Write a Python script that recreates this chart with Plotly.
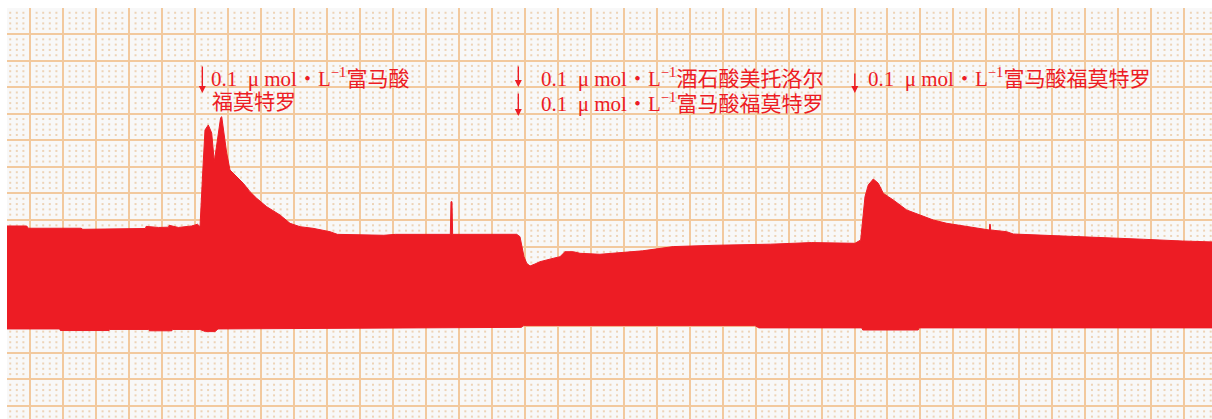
import numpy as np
import plotly.graph_objects as go

# Chart paper geometry: 1 unit = one major division
X_RANGE = [-0.6974, 35.840]
Y_RANGE = [-0.4893, 14.979]

# Upper envelope of the tension trace (time in divisions, amplitude in divisions)
upper_t = [-0.70, -0.10, -0.05, 1.55, 1.60, 3.20, 3.50, 3.52, 3.90, 4.20, 4.22,
           4.50, 4.90, 5.08, 5.155,
           5.246, 5.306, 5.406, 5.509, 5.588, 5.679, 5.780, 5.813, 5.861, 5.964,
           6.064, 6.267, 6.468, 6.671, 6.874, 7.177, 7.580, 7.884, 8.187, 8.581,
           9.096, 9.32, 10.73, 11.08, 12.745, 12.765, 12.795, 12.815, 14.757,
           14.857, 14.909, 14.979, 15.061, 15.161, 15.312, 15.464, 15.867, 16.070,
           16.222, 16.474, 16.677, 17.28, 18.57, 19.51, 20.80, 22.45, 23.69,
           25.015, 25.188, 25.249, 25.318, 25.418, 25.570, 25.722, 25.873, 26.025,
           26.177, 26.583, 26.986, 27.389, 27.796, 28.402, 29.090, 29.100, 29.115,
           29.130, 29.615, 29.815, 30.624, 31.17, 32.58, 33.76, 34.94, 35.84]
upper_v = [6.775, 6.775, 6.69, 6.69, 6.65, 6.675, 6.68, 6.76, 6.72, 6.73, 6.80,
           6.72, 6.775, 6.84, 6.748,
           9.006, 10.388, 10.576, 10.275, 9.195, 10.011, 10.85, 10.888, 10.388, 9.522,
           8.882, 8.630, 8.382, 8.066, 7.817, 7.501, 7.189, 6.876, 6.748, 6.688,
           6.560, 6.46, 6.425, 6.46, 6.46, 7.689, 7.689, 6.46, 6.462,
           6.372, 6.059, 5.619, 5.371, 5.269, 5.344, 5.431, 5.559, 5.619,
           5.807, 5.807, 5.747, 5.71, 5.84, 6.00, 6.05, 6.09, 6.15,
           6.123, 6.248, 7.064, 7.877, 8.318, 8.543, 8.382, 8.005, 7.877,
           7.753, 7.377, 7.189, 7.000, 6.876, 6.748, 6.624, 6.839, 6.839,
           6.624, 6.560, 6.473, 6.436, 6.40, 6.34, 6.275, 6.21, 6.175]

# Lower envelope of the trace
lower_t = [-0.70, 0.90, 0.92, 2.40, 2.42, 3.60, 3.62, 4.30, 4.32, 5.15, 5.32,
           5.61, 5.70, 7.14, 14.90, 14.96, 21.98, 22.10,
           25.22, 25.25, 26.93, 26.96, 35.84]
lower_v = [2.90, 2.90, 2.84, 2.84, 2.88, 2.88, 2.83, 2.83, 2.88, 2.88, 2.80,
           2.80, 2.90, 2.90, 2.96, 3.025, 3.025, 2.94,
           2.94, 2.86, 2.86, 2.94, 2.94]

# Drug additions: time of each arrow and its labels
event_t = [5.225, 14.806, 25.010]
dose = "0.1\u2002μ mol・L<sup>−1</sup>"
label_rows = [
    (event_t[0], 7, 12.345, dose + "富马酸"),
    (event_t[0], 8, 11.44, "福莫特罗"),
    (event_t[1], 21, 12.345, dose + "酒石酸美托洛尔"),
    (event_t[1], 21, 11.44, dose + "富马酸福莫特罗"),
    (event_t[2], 11, 12.345, dose + "富马酸福莫特罗"),
]
# arrow tips (time, amplitude) and arrow length in px
arrows = [(event_t[0], 11.78, 28), (event_t[1], 12.006, 22),
          (event_t[1], 10.915, 24), (event_t[2], 11.78, 21)]

RED = "#ED1C24"
GRID = "#F2C99E"
DOT = "#EDD3B6"
FONT = "Liberation Serif, Noto Sans CJK SC, serif"

fig = go.Figure()

# minor dot lattice of the chart paper (5 subdivisions per division)
ix = np.arange(-3, 180)
iy = np.arange(-2, 75)
gx, gy = np.meshgrid(ix, iy)
keep = (gx % 5 != 0) & (gy % 5 != 0)
fig.add_trace(go.Scatter(
    x=(gx[keep] * 0.2), y=(gy[keep] * 0.2), mode="markers",
    marker=dict(symbol="square", size=2, color=DOT, line=dict(width=0)),
    hoverinfo="skip", showlegend=False))

# filled trace between the envelopes
poly_t = list(upper_t) + list(reversed(lower_t))
poly_v = list(upper_v) + list(reversed(lower_v))
fig.add_trace(go.Scatter(
    x=poly_t, y=poly_v, mode="lines", fill="toself", fillcolor=RED,
    line=dict(color=RED, width=1), hoverinfo="skip", showlegend=False))

for t, v, length in arrows:
    fig.add_annotation(x=t, y=v, xref="x", yref="y", text="", showarrow=True,
                       ax=0, ay=-length, axref="pixel", ayref="pixel",
                       arrowhead=2, arrowsize=1.0, arrowwidth=1.4, arrowcolor=RED)

for t, shift, v, txt in label_rows:
    fig.add_annotation(x=t, y=v, xref="x", yref="y", text=txt, showarrow=False,
                       xanchor="left", yanchor="middle", xshift=shift,
                       font=dict(family=FONT, size=21, color=RED))

axis_common = dict(showgrid=True, gridcolor=GRID, gridwidth=2, dtick=1, tick0=0,
                   zeroline=False, showticklabels=False, ticks="", showline=False,
                   fixedrange=True)
fig.update_xaxes(range=X_RANGE, **axis_common)
fig.update_yaxes(range=Y_RANGE, **axis_common)

fig.update_layout(
    width=1212, height=419,
    margin=dict(l=7, r=0, t=8, b=0, pad=0),
    paper_bgcolor="white", plot_bgcolor="#F8F8F8",
    showlegend=False,
)

fig.write_html("out.html")
